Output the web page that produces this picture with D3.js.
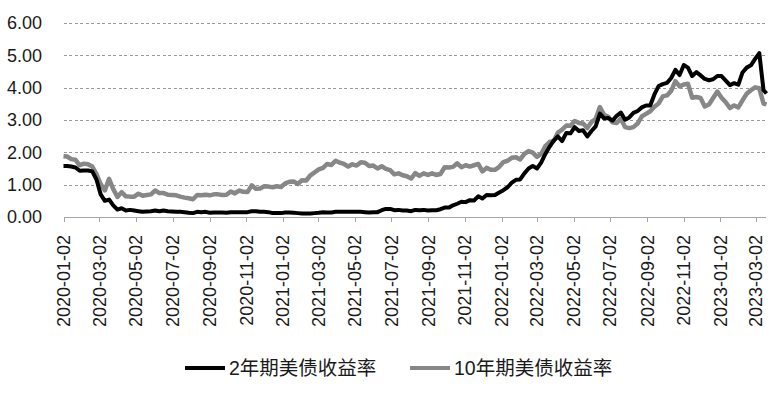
<!DOCTYPE html>
<meta charset="utf-8">
<style>
body { margin: 0; background: #fff; }
text { font-family: "Liberation Sans", Arial, "Noto Sans CJK SC", sans-serif; fill: #1a1a1a; }
.grid line { stroke: #9a9a9a; stroke-dasharray: 3,2.5; shape-rendering: crispEdges; }
.grid path { display: none; }
.xaxis line, .xaxis path { stroke: #a6a6a6; shape-rendering: crispEdges; }
.legend text { font-family: "Liberation Sans", "Noto Sans CJK SC", sans-serif; }
</style>
<body>
<script src="https://cdnjs.cloudflare.com/ajax/libs/d3/7.8.5/d3.min.js"></script>
<script>
// weekly observations (Wednesdays), plus first and last trading day
var dates = [new Date(Date.UTC(2020, 0, 2))]
  .concat(d3.utcWednesday.range(new Date(Date.UTC(2020, 0, 3)), new Date(Date.UTC(2023, 2, 16))))
  .concat([new Date(Date.UTC(2023, 2, 20))]);

var tickLabels = [
  "2020-01-02", "2020-03-02", "2020-05-02", "2020-07-02", "2020-09-02", "2020-11-02",
  "2021-01-02", "2021-03-02", "2021-05-02", "2021-07-02", "2021-09-02", "2021-11-02",
  "2022-01-02", "2022-03-02", "2022-05-02", "2022-07-02", "2022-09-02", "2022-11-02",
  "2023-01-02", "2023-03-02"
];

var yTicks = [0, 1, 2, 3, 4, 5, 6];

var seriesNames = ["2年期美债收益率", "10年期美债收益率"];

// 2-year yield
var y2 = [
  1.58,
  1.58, 1.56, 1.53, 1.43,
  1.44, 1.44, 1.41, 1.16,
  0.70, 0.50, 0.54, 0.36,
  0.23, 0.27, 0.20, 0.22, 0.20,
  0.18, 0.16, 0.17, 0.18,
  0.20, 0.18, 0.20, 0.18,
  0.17, 0.16, 0.16, 0.15, 0.13,
  0.12, 0.16, 0.15, 0.16,
  0.13, 0.14, 0.14, 0.14, 0.13,
  0.15, 0.15, 0.15, 0.15,
  0.15, 0.18, 0.18, 0.16,
  0.16, 0.15, 0.12, 0.12, 0.12,
  // 2021
  0.14, 0.14, 0.13, 0.12,
  0.11, 0.11, 0.11, 0.12,
  0.13, 0.15, 0.14, 0.14, 0.16,
  0.16, 0.16, 0.16, 0.16,
  0.16, 0.16, 0.15, 0.14,
  0.15, 0.15, 0.21, 0.25, 0.25,
  0.21, 0.22, 0.20, 0.20,
  0.18, 0.22, 0.21, 0.22,
  0.20, 0.21, 0.21, 0.24, 0.29,
  0.29, 0.36, 0.41, 0.47,
  0.46, 0.52, 0.51, 0.64,
  0.57, 0.68, 0.67, 0.68, 0.76,
  // 2022
  0.83, 0.92, 1.06, 1.15,
  1.16, 1.35, 1.50, 1.58,
  1.50, 1.68, 1.95, 2.17, 2.36,
  2.49, 2.35, 2.60, 2.59,
  2.78, 2.66, 2.68, 2.49,
  2.66, 2.80, 3.20, 3.05, 3.06,
  2.98, 3.13, 3.23, 3.01,
  3.08, 3.22, 3.28, 3.39, 3.45,
  3.45, 3.79, 4.05, 4.11,
  4.15, 4.30, 4.55, 4.39,
  4.70, 4.62, 4.36, 4.48, 4.38,
  4.27, 4.23, 4.26, 4.36,
  // 2023
  4.36, 4.22, 4.08, 4.14,
  4.09, 4.47, 4.62, 4.69,
  4.89, 5.07, 3.93,
  3.82
];

// 10-year yield
var y10 = [
  1.88,
  1.87, 1.79, 1.77, 1.60,
  1.65, 1.63, 1.56, 1.33,
  1.02, 0.82, 1.18, 0.86,
  0.62, 0.77, 0.64, 0.63, 0.63,
  0.72, 0.66, 0.68, 0.70,
  0.82, 0.74, 0.74, 0.69,
  0.68, 0.67, 0.63, 0.60, 0.58,
  0.55, 0.68, 0.67, 0.69,
  0.67, 0.70, 0.70, 0.68, 0.69,
  0.79, 0.73, 0.82, 0.78,
  0.77, 0.98, 0.87, 0.88,
  0.95, 0.94, 0.92, 0.95, 0.93,
  // 2021
  1.04, 1.09, 1.10, 1.02,
  1.14, 1.13, 1.29, 1.38,
  1.47, 1.52, 1.64, 1.61, 1.74,
  1.68, 1.64, 1.56, 1.63,
  1.59, 1.69, 1.68, 1.58,
  1.59, 1.50, 1.57, 1.49, 1.45,
  1.32, 1.35, 1.29, 1.26,
  1.19, 1.36, 1.27, 1.35,
  1.30, 1.35, 1.30, 1.33, 1.54,
  1.53, 1.55, 1.66, 1.54,
  1.60, 1.56, 1.60, 1.64,
  1.41, 1.52, 1.46, 1.46, 1.55,
  // 2022
  1.70, 1.74, 1.83, 1.85,
  1.78, 1.95, 2.04, 1.99,
  1.86, 1.95, 2.19, 2.32, 2.35,
  2.61, 2.70, 2.83, 2.82,
  2.97, 2.91, 2.89, 2.75,
  2.94, 3.03, 3.40, 3.16, 3.10,
  2.93, 2.91, 3.04, 2.78,
  2.75, 2.78, 2.89, 3.11, 3.19,
  3.27, 3.41, 3.51, 3.73,
  3.76, 3.90, 4.20, 4.04,
  4.10, 4.12, 3.69, 3.71, 3.68,
  3.42, 3.48, 3.68, 3.88,
  // 2023
  3.69, 3.55, 3.37, 3.45,
  3.39, 3.61, 3.81, 3.92,
  4.01, 3.98, 3.51,
  3.48
];

var colors = ["#000000", "#878787"];

var W = 777, H = 396;
var svg = d3.select("body").append("svg")
    .attr("width", W)
    .attr("height", H);

var x = d3.scaleUtc()
    .domain([new Date(Date.UTC(2020, 0, 2)), new Date(Date.UTC(2023, 2, 2))])
    .range([63.5, 755.7]);

var y = d3.scaleLinear()
    .domain([0, 6])
    .range([217, 23]);

var plotRight = 766;

// gridlines
svg.append("g")
    .attr("class", "grid")
    .attr("transform", "translate(" + x.range()[0] + ",0)")
    .call(d3.axisLeft(y).tickValues(yTicks.slice(1)).tickSize(-(plotRight - x.range()[0])).tickFormat(""));

// y labels
svg.append("g").selectAll("text")
    .data(yTicks)
  .enter().append("text")
    .attr("x", 42)
    .attr("y", function(d) { return y(d); })
    .attr("dy", "0.35em")
    .attr("text-anchor", "end")
    .style("font-size", "18px")
    .text(function(d) { return d3.format(".2f")(d); });

// x axis
var tickDates = tickLabels.map(function(s) { return d3.utcParse("%Y-%m-%d")(s); });
var xa = svg.append("g")
    .attr("class", "xaxis")
    .attr("transform", "translate(0," + y(0) + ")")
    .call(d3.axisBottom(x).tickValues(tickDates).tickSize(5).tickSizeOuter(0).tickFormat(""));
xa.select(".domain").remove();
xa.append("line")
    .attr("x1", x.range()[0])
    .attr("x2", plotRight)
    .attr("y1", 0.5)
    .attr("y2", 0.5);

svg.append("g").selectAll("text")
    .data(tickDates)
  .enter().append("text")
    .attr("transform", function(d) { return "translate(" + x(d) + ",235) rotate(-90)"; })
    .attr("dy", "0.35em")
    .attr("text-anchor", "end")
    .style("font-size", "18px")
    .text(function(d, i) { return tickLabels[i]; });

// lines
var series = [y10, y2];
var seriesColors = [colors[1], colors[0]];
var widths = [4.5, 4];

series.forEach(function(vals, k) {
  var line = d3.line()
      .x(function(d, i) { return x(dates[i]); })
      .y(function(d) { return y(d); });
  svg.append("path")
      .datum(vals)
      .attr("fill", "none")
      .attr("stroke", seriesColors[k])
      .attr("stroke-width", widths[k])
      .attr("stroke-linejoin", "round")
      .attr("d", line);
});

// legend
var legend = svg.append("g").attr("class", "legend");
var legendX = [185, 410];
seriesNames.forEach(function(name, i) {
  legend.append("line")
      .attr("x1", legendX[i])
      .attr("x2", legendX[i] + 40)
      .attr("y1", 368)
      .attr("y2", 368)
      .attr("stroke", colors[i])
      .attr("stroke-width", 4);
  legend.append("text")
      .attr("x", legendX[i] + 44)
      .attr("y", 368)
      .attr("dy", "0.36em")
      .style("font-size", "19.5px")
      .text(name);
});
</script>
